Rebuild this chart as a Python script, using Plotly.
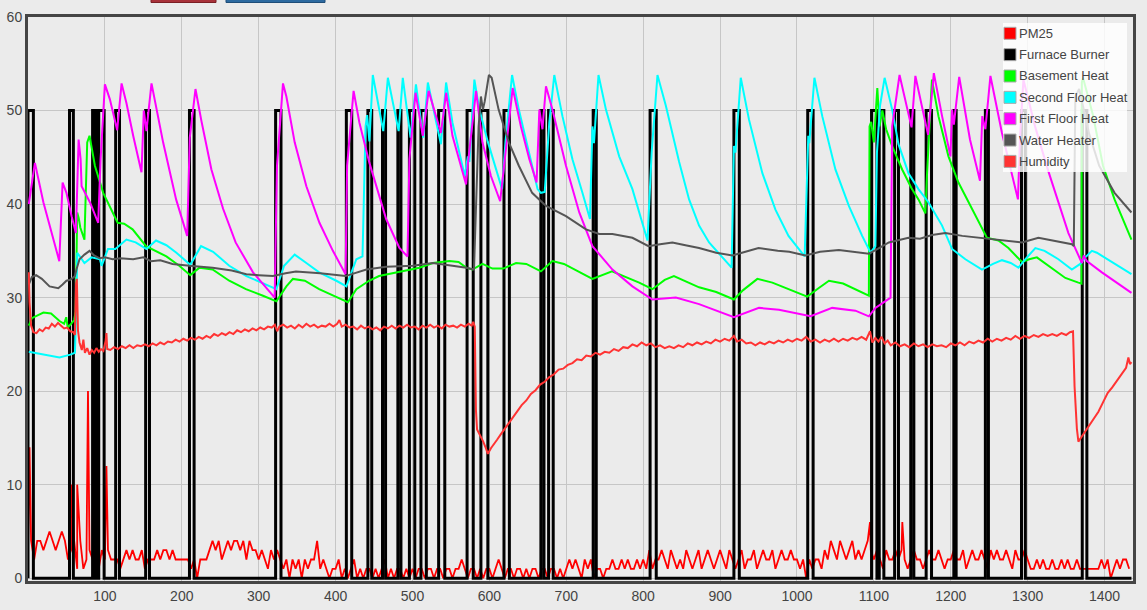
import plotly.graph_objects as go

# ---------------- data ----------------
X_MAX = 1437

# Furnace burner: on-intervals (minutes); burner reads 50 while on, 0 while off
burner_on = [(0, 7), (54, 59), (84, 87), (89, 91), (92, 99), (114, 119), (153, 158),
             (210, 216), (322, 329), (414, 421), (442, 447), (461, 465), (481, 485),
             (496, 503), (511, 518), (534, 542), (571, 579), (589, 598), (619, 626),
             (667, 671), (677, 683), (735, 739), (809, 817), (918, 925), (1014, 1021),
             (1097, 1104), (1107, 1113), (1127, 1132), (1148, 1152), (1168, 1175),
             (1204, 1207), (1245, 1249), (1292, 1297), (1371, 1377)]
burner_level = 50

# PM25 sampled every 4 minutes, plus isolated spikes
pm25_step = 4
pm25_base = [
    3, 4, 2, 4, 4, 3, 4, 5, 4, 3, 4, 5, 4, 2, 3, 4, 1, 4, 1, 2, 3, 2, 3, 1, 3,
    2, 3, 2, 2, 2, 1, 2, 3, 2, 3, 2, 2, 3, 1, 2, 2, 2, 3, 2, 3, 3, 2, 3, 2, 2,
    2, 2, 2, 1, 2, 0, 2, 2, 2, 3, 4, 3, 4, 2, 3, 4, 3, 4, 4, 3, 4, 2, 4, 3, 3,
    2, 3, 2, 1, 3, 2, 3, 2, 1, 2, 0, 2, 1, 2, 0, 2, 1, 2, 2, 4, 1, 2, 1, 0, 1,
    1, 2, 0, 1, 0, 1, 2, 0, 1, 0, 1, 1, 0, 1, 0, 1, 2, 0, 1, 0, 1, 1, 0, 1, 0,
    1, 0, 1, 1, 0, 1, 1, 0, 1, 1, 0, 1, 1, 0, 1, 1, 2, 1, 0, 1, 1, 0, 1, 0, 1,
    1, 0, 1, 2, 1, 0, 1, 1, 0, 1, 1, 0, 1, 0, 1, 1, 0, 1, 1, 0, 1, 1, 0, 1, 0,
    1, 2, 1, 2, 1, 0, 2, 1, 2, 0, 1, 1, 0, 1, 1, 2, 1, 1, 2, 1, 2, 1, 1, 2, 1,
    2, 1, 3, 1, 2, 2, 3, 2, 1, 3, 2, 1, 2, 1, 3, 2, 1, 2, 3, 1, 2, 3, 2, 1, 2,
    3, 2, 1, 3, 2, 1, 2, 3, 1, 2, 2, 3, 1, 2, 3, 2, 2, 3, 1, 2, 3, 2, 2, 3, 2,
    2, 1, 2, 0, 2, 1, 2, 2, 1, 3, 2, 4, 3, 2, 4, 3, 2, 3, 4, 2, 3, 2, 3, 4, 3,
    2, 3, 2, 1, 3, 2, 2, 3, 2, 3, 2, 1, 2, 3, 2, 2, 1, 2, 3, 2, 2, 3, 2, 1, 2,
    2, 3, 2, 2, 3, 1, 2, 3, 2, 2, 3, 2, 1, 3, 2, 3, 2, 2, 3, 2, 1, 3, 2, 2, 3,
    2, 1, 1, 2, 1, 2, 1, 1, 2, 1, 1, 2, 1, 2, 1, 1, 2, 1, 1, 1, 1, 1, 1, 1, 2,
    1, 2, 0, 1, 2, 1, 2, 2, 1,
]
pm25_spikes = [(2, 14), (56, 10), (64, 10), (78, 20), (102, 12), (1095, 6), (1137, 6)]

basement = [
    (1, 27.0), (5, 27.8), (20, 28.4), (30, 28.3), (41, 27.5), (47, 27.2), (49.7, 27.9),
    (51.7, 26.8), (56, 27.2), (60, 27.6), (62, 28.5), (64, 39.1), (66, 38.5), (68, 37.5),
    (73.4, 36.2), (77, 46.6), (80, 47.3), (87, 44.1), (97.8, 41.2), (110.8, 39.1),
    (116.6, 38.0), (125, 37.9), (136, 37.3), (153.5, 35.5), (166.5, 35.0), (180, 34.4),
    (196.7, 33.4), (211, 32.4), (223, 33.2), (240, 33.0), (261.7, 31.8), (283.4, 30.9),
    (305.6, 30.2), (323, 29.6), (336, 31.2), (344.5, 32.0), (360, 31.8), (378.6, 30.9),
    (400, 30.1), (416, 29.5), (427, 30.9), (443.5, 31.8), (456.5, 32.3), (478.8, 32.7),
    (500, 33.0), (509, 33.2), (526.4, 33.7), (548, 33.9), (560, 33.8), (569.7, 33.2),
    (578, 33.0), (591, 33.6), (604, 33.1), (618, 33.1), (634.7, 33.7), (648, 33.6),
    (667, 32.8), (682, 33.9), (697, 33.6), (716.9, 32.7), (734, 32.0), (759.5, 32.8),
    (775, 32.3), (794.8, 31.6), (812, 30.9), (828, 31.9), (840, 32.3), (856, 31.7),
    (872.7, 31.1), (895, 30.6), (918, 29.8), (930, 30.8), (948.5, 32.0), (968, 31.6),
    (989, 30.9), (1013.4, 30.1), (1028, 31.0), (1041.6, 31.8), (1060, 31.5), (1076, 30.9),
    (1093.5, 30.2), (1094.4, 48.3), (1096.5, 48.8), (1100, 46.6), (1104.5, 52.4),
    (1107.4, 48.3), (1111, 50.0), (1116, 48.0), (1123.8, 46.2), (1136.8, 43.7),
    (1149, 41.7), (1158, 40.5), (1167, 39.0), (1169, 43.0), (1175.5, 53.3), (1184, 49.4),
    (1197, 45.1), (1210, 42.3), (1227.7, 39.4), (1247, 36.4), (1262, 36.1), (1275, 35.3),
    (1292.6, 33.8), (1302, 34.1), (1312, 34.3), (1325, 33.5), (1349, 32.1), (1366, 31.6),
    (1370, 31.5), (1370.5, 53.0), (1372, 53.5), (1385, 49.5), (1398, 44.1), (1413, 40.5),
    (1435, 36.2),
]

second_floor = [
    (1, 24.2), (20, 23.9), (41, 23.6), (55, 23.9), (61, 24.1), (62.5, 28.0), (64, 34.8),
    (73.4, 33.7), (82.7, 34.3), (93.5, 34.1), (95.7, 33.4), (104, 35.2), (113.6, 35.2),
    (128, 36.2), (140, 35.9), (154, 35.2), (166.5, 36.1), (180, 35.6), (193, 34.8),
    (211, 33.5), (225, 35.5), (240.7, 34.9), (261.7, 33.4), (284, 32.3), (310, 31.4),
    (323, 30.9), (333, 33.4), (346.8, 34.6), (362, 33.7), (378.6, 32.7), (401, 31.8),
    (414, 31.2), (427, 34.1), (435, 34.4), (439, 48.3), (441, 49.5), (444, 46.7),
    (448.4, 53.8), (462, 47.8), (468, 53.5), (482, 47.8), (487.4, 53.5), (497.5, 47.1),
    (504.5, 52.8), (514, 47.1), (520, 53.0), (537, 46.4), (543.7, 53.0), (552, 48.7),
    (568, 43.0), (572, 45.1), (574, 44.5), (580.5, 53.3), (587, 50.1), (597.8, 46.7),
    (608.7, 43.7), (616.5, 41.6), (621, 46.7), (629.5, 53.8), (638.3, 50.1), (649.7, 46.2),
    (662.7, 41.6), (667, 41.2), (672, 41.3), (677.9, 48.7), (684.4, 53.8), (695, 49.4),
    (708, 44.8), (721, 41.2), (730.8, 38.4), (734, 48.3), (736, 46.5), (741.9, 53.8),
    (751.6, 50.1), (768.8, 45.1), (786, 41.6), (805.6, 36.1), (811, 45.5), (818.6, 53.8),
    (829.5, 50.5), (846.8, 44.5), (859.7, 40.5), (872.7, 37.7), (885.7, 35.9), (915, 33.2),
    (918, 46.2), (920, 45.5), (926.9, 53.5), (937.7, 49.0), (955, 43.3), (972, 39.4),
    (989, 36.6), (1010, 34.4), (1014.7, 47.3), (1016, 46.5), (1022.7, 53.5), (1032.9, 49.4),
    (1050, 43.7), (1067.5, 39.8), (1084.8, 36.6), (1095.7, 34.8), (1102, 35.5),
    (1104, 45.5), (1108, 50.5), (1114, 53.5), (1123.8, 50.1), (1132, 46.4), (1145, 43.3),
    (1158, 41.6), (1171, 40.2), (1188.7, 37.7), (1201.7, 35.2), (1219, 34.1),
    (1240.6, 33.0), (1255, 33.6), (1266.6, 34.0), (1278, 33.7), (1288, 33.2), (1298, 34.2),
    (1310, 35.3), (1322, 35.0), (1340, 34.1), (1357.5, 33.0), (1368.4, 33.6), (1375, 34.3),
    (1383.5, 35.0), (1390, 34.8), (1413, 33.6), (1435, 32.5),
]

first_floor = [
    (1, 40.0), (9, 44.4), (20, 40.2), (28.5, 37.7), (40.7, 33.9), (45, 42.3), (50, 41.2),
    (56.7, 38.7), (62.3, 36.9), (65.8, 46.9), (68.4, 44.8), (69.7, 41.9), (80.5, 40.2),
    (91.3, 38.0), (94.4, 44.8), (100, 52.8), (106.5, 51.2), (116, 47.9), (121.7, 52.9),
    (128, 50.8), (136.8, 47.3), (147.6, 43.4), (150.6, 50.0), (154, 47.8), (160.6, 52.9),
    (175.7, 46.6), (192.6, 40.5), (207, 36.6), (210.4, 47.1), (217.8, 52.3), (225.5, 48.9),
    (238.5, 43.7), (253.7, 39.5), (270, 35.9), (292.6, 32.7), (320.8, 30.0), (323.8, 44.1),
    (331.6, 52.9), (336, 51.5), (346.8, 46.6), (362, 41.9), (379, 38.0), (396.5, 35.0),
    (413, 32.5), (415, 44.1), (423.4, 52.1), (431, 48.7), (444, 44.4), (465.8, 38.4),
    (483, 35.3), (493.5, 34.4), (496, 44.8), (504, 51.9), (513.4, 47.3), (521, 52.1),
    (537, 47.6), (543.8, 51.9), (552, 47.3), (569.7, 42.1), (571.8, 44.1), (582.7, 52.1),
    (591, 46.6), (602, 43.0), (614, 40.3), (621.7, 45.8), (630.3, 52.4), (641, 48.3),
    (652, 44.8), (661.4, 42.3), (665, 50.1), (669, 48.0), (673.6, 52.6), (682, 50.1),
    (699.6, 44.1), (716.9, 39.1), (734, 35.5), (760, 33.0), (786, 31.2), (812, 29.8),
    (842.5, 30.0), (872.7, 29.3), (895, 28.6), (918, 27.9), (950.6, 28.9), (976.6, 28.7),
    (1017.8, 28.0), (1045.8, 28.9), (1076, 28.6), (1093.5, 28.0), (1102, 28.9),
    (1121.7, 30.0), (1123.8, 48.3), (1133.4, 53.8), (1149, 48.2), (1154, 53.7),
    (1170.5, 47.4), (1178, 54.0), (1188.7, 49.4), (1199.6, 45.1), (1201.7, 50.1),
    (1204, 48.5), (1211, 53.6), (1225, 46.9), (1238, 42.5), (1241, 49.4), (1245, 48.0),
    (1251.6, 53.7), (1266.6, 47.6), (1287.4, 40.5), (1290, 47.0), (1294.5, 53.3),
    (1310, 48.2), (1327, 43.5), (1353, 36.9), (1370.5, 33.7), (1373, 34.5), (1377, 33.9),
    (1396.5, 32.7), (1435, 30.5),
]

water_heater = [
    (1, 31.4), (5, 32.2), (10.6, 32.4), (18, 32.0), (28, 31.2), (39.4, 31.0), (45, 31.4),
    (50, 31.8), (55, 31.9), (61, 32.3), (63, 33.0), (67, 34.1), (73.4, 34.6), (80, 35.0),
    (86, 34.5), (93, 34.2), (100, 34.3), (110, 34.1), (120, 34.2), (136.8, 34.1),
    (150, 34.3), (160, 33.9), (172, 34.0), (188, 33.6), (210, 33.4), (240, 33.2),
    (265, 32.9), (284, 32.5), (300, 32.4), (318.6, 32.3), (335, 32.6), (348.4, 32.8),
    (380, 32.6), (413, 32.3), (440, 33.0), (465.8, 33.3), (500.4, 33.4), (526.4, 33.7),
    (552, 33.4), (570, 33.2), (580, 33.0), (583.5, 41.2), (586, 48.3), (589, 51.5),
    (591.6, 50.1), (594, 51.0), (599.4, 53.8), (603, 53.5), (612, 50.1), (625.3, 46.6),
    (638.3, 44.1), (655.6, 41.2), (673.6, 39.8), (699.6, 38.7), (725.6, 37.3),
    (742.9, 36.8), (760, 36.8), (786, 36.4), (807, 35.5), (822, 35.7), (838, 35.9),
    (855, 35.6), (872.7, 35.3), (895, 34.8), (916, 34.5), (933, 34.9), (950, 35.3),
    (975, 35.0), (990, 34.9), (1011, 34.5), (1030, 34.9), (1054.5, 35.1), (1075, 34.9),
    (1093.5, 34.7), (1105, 35.2), (1119.5, 35.9), (1145, 36.4), (1160, 36.3),
    (1175.5, 36.7), (1193, 36.9), (1215, 36.6), (1245, 36.3), (1270, 36.1),
    (1292.6, 35.9), (1314, 36.4), (1335, 36.1), (1357.5, 35.7), (1360, 35.5),
    (1362, 51.5), (1367, 52.3), (1380, 47.5), (1393, 44.1), (1413, 41.2), (1435, 39.1),
]

humidity = [
    (1, 32.7), (2, 29.5), (4, 27.0), (7, 26.3), (11, 26.2), (15, 26.6), (19, 26.4), (23, 26.8),
    (27, 26.7), (31, 27.2), (35, 26.9), (39, 27.3), (43, 27.0), (47, 26.7), (51, 26.8),
    (55, 26.4), (59, 26.3), (61, 26.0), (62.5, 31.5), (63.5, 32.0), (65, 26.5), (67, 25.2),
    (70, 24.4), (72, 25.5), (74, 24.1), (77, 24.6), (80, 23.9), (83, 24.4), (86, 24.1),
    (89, 24.6), (92, 24.2), (95, 24.5), (98, 24.3), (101, 25.4), (102, 26.2), (103, 24.5),
    (107, 24.4), (112, 24.7), (117, 24.5), (122, 24.8), (127, 24.6), (132, 24.9), (137, 24.6),
    (142, 24.9), (147, 24.8), (152, 25.0), (157, 24.8), (162, 25.1), (167, 24.9), (172, 25.2),
    (177, 25.0), (182, 25.3), (187, 25.2), (192, 25.5), (197, 25.3), (202, 25.6), (207, 25.4),
    (212, 25.7), (217, 25.5), (222, 25.8), (227, 25.6), (232, 25.9), (237, 25.7), (242, 26.1),
    (247, 25.9), (252, 26.2), (257, 26.0), (262, 26.3), (267, 26.1), (272, 26.5), (277, 26.3),
    (282, 26.6), (287, 26.4), (292, 26.7), (297, 26.5), (302, 26.8), (307, 26.6), (312, 26.9),
    (317, 26.8), (321, 27.1), (324, 26.4), (327, 26.9), (332, 27.1), (337, 26.8), (342, 27.0),
    (347, 26.7), (352, 27.1), (357, 26.8), (362, 27.2), (367, 26.9), (372, 27.1), (377, 26.8),
    (382, 27.0), (387, 26.9), (392, 27.2), (397, 26.9), (402, 27.2), (405, 27.6), (408, 26.9),
    (413, 27.1), (418, 26.8), (423, 26.9), (428, 26.6), (433, 27.0), (438, 26.7), (443, 26.9),
    (448, 26.6), (453, 26.8), (458, 26.5), (463, 26.9), (468, 26.7), (473, 27.0), (478, 26.7),
    (483, 27.0), (488, 26.8), (493, 27.1), (498, 26.8), (503, 26.9), (508, 26.6), (513, 27.0),
    (518, 26.8), (523, 27.1), (528, 26.8), (533, 27.0), (538, 26.7), (543, 27.1), (548, 26.9),
    (553, 27.0), (558, 26.8), (563, 27.1), (568, 26.9), (573, 27.2), (577, 27.0), (579, 27.4),
    (581, 26.9), (582.5, 18.0), (584, 15.9), (588, 15.3), (592, 14.6), (595, 14.0),
    (598, 13.3), (602, 13.9), (606, 14.3), (610, 14.8), (615, 15.4), (620, 16.0), (625, 16.6),
    (630, 17.1), (636, 17.8), (642, 18.5), (648, 19.0), (654, 19.7), (660, 20.1), (666, 20.7),
    (672, 21.0), (678, 21.5), (684, 21.8), (690, 22.3), (696, 22.4), (702, 22.8), (708, 23.0),
    (714, 23.4), (720, 23.3), (726, 23.8), (732, 23.7), (738, 24.1), (744, 23.9), (750, 24.2),
    (756, 24.1), (762, 24.5), (768, 24.3), (774, 24.7), (780, 24.6), (786, 25.0), (792, 24.8),
    (798, 25.2), (804, 24.9), (810, 25.1), (816, 24.7), (822, 24.9), (828, 24.6), (834, 24.8),
    (840, 24.6), (846, 24.9), (852, 24.7), (858, 25.1), (864, 24.9), (870, 25.2), (876, 25.0),
    (882, 25.3), (888, 25.1), (894, 25.5), (900, 25.3), (906, 25.6), (912, 25.4), (918, 25.9),
    (922, 25.3), (928, 25.5), (934, 25.1), (940, 25.2), (946, 24.9), (952, 25.2), (958, 25.0),
    (964, 25.3), (970, 25.1), (976, 25.4), (982, 25.2), (988, 25.5), (994, 25.3), (1000, 25.6),
    (1006, 25.4), (1012, 25.8), (1018, 25.3), (1024, 25.5), (1030, 25.2), (1036, 25.5),
    (1042, 25.3), (1048, 25.6), (1054, 25.3), (1060, 25.6), (1066, 25.4), (1072, 25.7),
    (1078, 25.5), (1084, 25.8), (1090, 25.5), (1095, 26.4), (1098, 25.2), (1102, 25.7),
    (1106, 25.3), (1110, 25.8), (1114, 25.1), (1118, 25.4), (1122, 24.9), (1128, 25.2),
    (1134, 24.8), (1140, 25.0), (1146, 24.7), (1152, 25.1), (1158, 24.8), (1164, 25.0),
    (1170, 24.7), (1176, 25.0), (1182, 24.8), (1188, 24.9), (1194, 24.7), (1200, 25.1),
    (1206, 24.9), (1212, 25.2), (1218, 24.9), (1224, 25.3), (1230, 25.1), (1236, 25.4),
    (1242, 25.2), (1248, 25.6), (1254, 25.3), (1260, 25.6), (1266, 25.4), (1272, 25.7),
    (1278, 25.5), (1284, 25.9), (1290, 25.6), (1296, 25.9), (1302, 25.7), (1308, 26.0),
    (1314, 25.8), (1320, 26.1), (1326, 25.9), (1332, 26.1), (1338, 25.9), (1344, 26.2),
    (1350, 26.0), (1355, 26.3), (1359, 26.4), (1361, 20.5), (1364, 16.0), (1366, 14.6),
    (1370, 15.1), (1374, 15.6), (1379, 16.3), (1385, 17.0), (1392, 17.8), (1398, 18.8),
    (1404, 19.8), (1410, 20.4), (1416, 21.1), (1422, 21.8), (1428, 22.5), (1431, 23.6),
    (1433, 22.9), (1435, 23.1),
]

series_names = ["PM25", "Furnace Burner", "Basement Heat", "Second Floor Heat",
                "First Floor Heat", "Water Heater", "Humidity"]
series_colors = ["#ff0000", "#000000", "#00ff00", "#00ffff", "#ff00ff", "#555555", "#ff3333"]

x_ticks = list(range(100, 1500, 100))
y_ticks = list(range(0, 70, 10))

# ---------------- build traces ----------------
pm_pts = [(i * pm25_step, v) for i, v in enumerate(pm25_base)] + pm25_spikes
pm_pts.sort()
pm_x = [p[0] for p in pm_pts]
pm_y = [p[1] for p in pm_pts]

bx, by = [], []
for a, b in burner_on:
    bx += [a, a, b, b]
    by += [0, burner_level, burner_level, 0]
bx.append(1435)
by.append(0)


def split(pts):
    return [p[0] for p in pts], [p[1] for p in pts]


fig = go.Figure()
fig.add_trace(go.Scatter(x=pm_x, y=pm_y, mode="lines", name=series_names[0],
                         line=dict(color=series_colors[0], width=1.8), showlegend=False))
fig.add_trace(go.Scatter(x=bx, y=by, mode="lines", name=series_names[1],
                         line=dict(color=series_colors[1], width=3), showlegend=False))
for name, color, pts in zip(series_names[2:], series_colors[2:],
                            [basement, second_floor, first_floor, water_heater, humidity]):
    xs, ys = split(pts)
    fig.add_trace(go.Scatter(x=xs, y=ys, mode="lines", name=name,
                             line=dict(color=color, width=2), showlegend=False))

# ---------------- layout ----------------
L, R, T, B = 28, 14, 17, 29
W, H = 1147, 610
PW, PH = W - L - R, H - T - B


def px2x(px):
    return (px - L) / PW


def py2y(py):
    return (H - B - py) / PH


shapes = []
annotations = []
shapes.append(dict(type="rect", xref="paper", yref="paper",
                   x0=px2x(1003), x1=px2x(1127), y0=py2y(172), y1=py2y(23),
                   fillcolor="rgba(255,255,255,0.82)", line=dict(width=0), layer="above"))
for i, (name, color) in enumerate(zip(series_names, series_colors)):
    cy = 33.3 + i * 21.35
    shapes.append(dict(type="rect", xref="paper", yref="paper",
                       x0=px2x(1004), x1=px2x(1016), y0=py2y(cy + 6), y1=py2y(cy - 6),
                       fillcolor=color, line=dict(color="#aaaaaa", width=1), layer="above"))
    annotations.append(dict(xref="paper", yref="paper", x=px2x(1016.5), y=py2y(cy),
                            xanchor="left", yanchor="middle", text=name, showarrow=False,
                            font=dict(family="Liberation Sans, Arial, sans-serif",
                                      size=13, color="#444444")))
shapes.append(dict(type="rect", xref="paper", yref="paper", x0=px2x(151), x1=px2x(216),
                   y0=py2y(2.5), y1=py2y(-5), fillcolor="#a8323a",
                   line=dict(color="#7a1f25", width=1), layer="above"))
shapes.append(dict(type="rect", xref="paper", yref="paper", x0=px2x(226), x1=px2x(325),
                   y0=py2y(2.5), y1=py2y(-5), fillcolor="#2d6aa0",
                   line=dict(color="#1f4d78", width=1), layer="above"))

axis_font = dict(family="Liberation Sans, Arial, sans-serif", size=14, color="#444444")
common_axis = dict(tickmode="array", showgrid=True, gridcolor="#c6c6c6", gridwidth=1,
                   zeroline=False, showline=True, linecolor="#454545", linewidth=3,
                   mirror=True, ticks="", tickfont=axis_font, automargin=False)
fig.update_layout(
    width=W, height=H,
    margin=dict(l=L, r=R, t=T, b=B, pad=0, autoexpand=False),
    paper_bgcolor="#ebebeb", plot_bgcolor="#ebebeb",
    showlegend=False,
    shapes=shapes, annotations=annotations,
    xaxis=dict(range=[0, X_MAX], tickvals=x_ticks,
               ticktext=[str(v) for v in x_ticks], **common_axis),
    yaxis=dict(range=[-0.3, 60], tickvals=y_ticks,
               ticktext=[str(v) for v in y_ticks], **common_axis),
)

fig.write_html("out.html", config={"displayModeBar": False},
               post_script="document.body.style.margin='0';document.body.style.overflow='hidden';")
